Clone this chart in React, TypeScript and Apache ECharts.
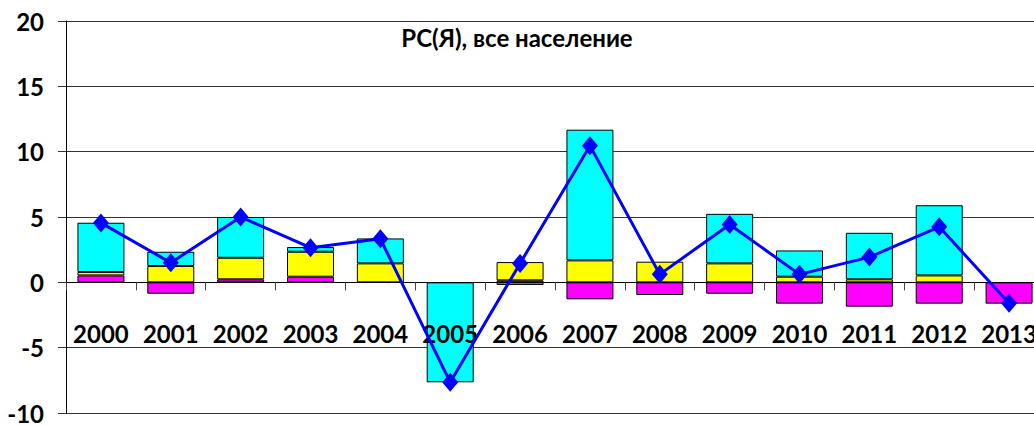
import React, { useEffect, useRef } from "react";
import * as echarts from "echarts";

const years = ["2000", "2001", "2002", "2003", "2004", "2005", "2006", "2007", "2008", "2009", "2010", "2011", "2012", "2013"];
const magentaPart: (number | null)[] = [0.53, -0.87, 0.23, 0.43, null, null, 0.15, -1.3, -0.97, -0.87, -1.63, -1.86, -1.63, -1.63];
const yellowPart: (number | null)[] = [0.26, 1.25, 1.65, 1.91, 1.45, null, 1.4, 1.68, 1.58, 1.45, 0.43, 0.23, 0.53, null];
const cyanPart: (number | null)[] = [3.77, 1.09, 3.12, 0.36, 1.91, -7.65, -0.2, 10.0, null, 3.79, 2.01, 3.56, 5.37, null];
const totalLine: number[] = [4.55, 1.5, 5.0, 2.65, 3.33, -7.65, 1.45, 10.46, 0.61, 4.43, 0.61, 1.93, 4.25, -1.6];
const yTicks = { min: -10, max: 20, interval: 5 };
const titleText = "РС(Я), все население";

const FONT = "Lato";
const GRID_TOP = 21;
const GRID_BOTTOM_Y = 413;

export default function App() {
  const ref = useRef<HTMLDivElement>(null);
  useEffect(() => {
    if (!ref.current) return;
    const chart = echarts.init(ref.current, null, { renderer: "svg" });
    const barStyle = (color: string) => ({ color, borderColor: "#000", borderWidth: 1 });
    const gridH = GRID_BOTTOM_Y - GRID_TOP;
    const zeroOffset = -(gridH * (0 - yTicks.min)) / (yTicks.max - yTicks.min);
    chart.setOption({
      animation: false,
      backgroundColor: "#fff",
      grid: {
        left: 66,
        right: -10,
        top: GRID_TOP,
        bottom: 426 - GRID_BOTTOM_Y,
        containLabel: false,
        outerBoundsMode: "none",
      },
      xAxis: {
        type: "category",
        data: years,
        z: 3,
        offset: zeroOffset,
        axisLine: { onZero: false, lineStyle: { color: "#000", width: 1 } },
        axisTick: { show: true, length: 8, lineStyle: { color: "#444" } },
        axisLabel: { interval: 0, color: "#000", fontFamily: FONT, fontWeight: "bold", fontSize: 24, margin: 39 },
        splitLine: { show: false },
      },
      yAxis: {
        type: "value",
        min: yTicks.min,
        max: yTicks.max,
        interval: yTicks.interval,
        axisLine: { show: true, lineStyle: { color: "#000", width: 1 } },
        axisTick: { show: true, length: 8, inside: false, lineStyle: { color: "#333" } },
        axisLabel: { color: "#000", fontFamily: FONT, fontWeight: "bold", fontSize: 24, margin: 22 },
        splitLine: { show: true, lineStyle: { color: "#333", width: 1 } },
      },
      series: [
        { type: "bar", name: "m", stack: "s", data: magentaPart, barWidth: 47, itemStyle: barStyle("#ff00ff"), z: 2 },
        { type: "bar", name: "y", stack: "s", data: yellowPart, barWidth: 47, itemStyle: barStyle("#ffff00"), z: 2 },
        { type: "bar", name: "c", stack: "s", data: cyanPart, barWidth: 47, itemStyle: barStyle("#00ffff"), z: 2 },
        {
          type: "line",
          name: "total",
          data: totalLine,
          z: 5,
          symbol: "diamond",
          symbolSize: [16, 19],
          lineStyle: { color: "#0000ff", width: 3 },
          itemStyle: { color: "#0000ff" },
        },
      ],
      graphic: [
        {
          type: "group",
          z: 10,
          children: [
            { type: "rect", shape: { x: 394, y: 12, width: 249, height: 44 }, style: { fill: "#fff" } },
            {
              type: "text",
              x: 517,
              y: 37,
              style: {
                text: titleText,
                fill: "#000",
                font: `bold 24px ${FONT}`,
                textAlign: "center",
                textVerticalAlign: "middle",
              },
            },
          ],
        },
      ],
    });
    return () => chart.dispose();
  }, []);
  return <div ref={ref} style={{ position: "fixed", left: 0, top: 0, width: 1034, height: 426 }} />;
}
